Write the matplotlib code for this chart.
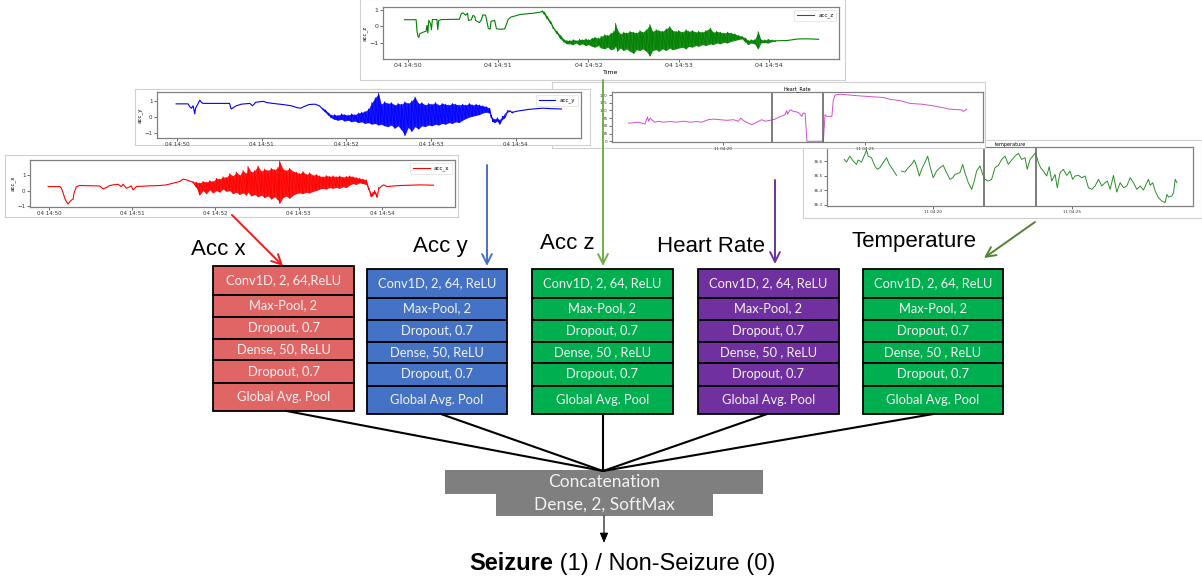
import numpy as np
import matplotlib.pyplot as plt

W, H = 1202, 578

# acc signals: time in minutes after 14:50, quiet trace (t, v) and noisy band (t, lo, hi)
accz_t = [-0.04, 0.09, 0.10, 0.11, 0.12, 0.13, 0.17, 0.20, 0.21, 0.22, 0.23, 0.25, 0.26, 0.27,
          0.32, 0.33, 0.34, 0.37, 0.57, 0.59, 0.61, 0.64, 0.66, 0.67, 0.70, 0.72, 0.74, 0.75,
          0.79, 0.81, 0.83, 0.86, 0.89, 0.91, 0.92, 0.96, 0.98, 1.02, 1.07, 1.09, 1.11, 1.14,
          1.19, 1.24, 1.31, 1.39, 1.47, 1.49, np.nan, 4.07, 4.12, 4.20, 4.27, 4.32, 4.40, 4.48, 4.55]
accz_v = [0.39, 0.39, -0.30, -0.60, -0.66, -0.45, -0.35, -0.30, 0.05, -0.40, 0.35, 0.15, -0.20, 0.40,
          0.40, -0.20, 0.35, 0.40, 0.42, 0.75, 0.80, 0.66, 0.78, 0.35, 0.38, 0.65, 0.58, 0.35,
          0.22, 0.35, 0.68, 0.66, -0.12, -0.18, 0.30, 0.35, -0.15, -0.18, -0.16, 0.10, 0.40, 0.55,
          0.62, 0.70, 0.74, 0.78, 0.85, 0.90, np.nan, -0.87, -0.86, -0.85, -0.80, -0.76, -0.75, -0.76, -0.78]
accz_nt = [1.49, 1.51, 1.54, 1.58, 1.61, 1.65, 1.69, 1.73, 1.76, 1.79, 1.83, 1.86, 1.90, 1.93, 1.97,
           2.00, 2.04, 2.07, 2.11, 2.14, 2.18, 2.21, 2.25, 2.28, 2.30, 2.32, 2.35, 2.39, 2.42, 2.46,
           2.50, 2.53, 2.57, 2.60, 2.64, 2.68, 2.71, 2.75, 2.78, 2.82, 2.86, 2.90, 2.93, 2.97, 3.00,
           3.04, 3.08, 3.11, 3.15, 3.19, 3.22, 3.26, 3.30, 3.35, 3.38, 3.42, 3.46, 3.50, 3.54, 3.58,
           3.62, 3.66, 3.70, 3.74, 3.77, 3.80, 3.84, 3.88, 3.91, 3.95, 3.99, 4.03, 4.07]
accz_lo = [0.85, 0.70, 0.45, 0.15, -0.15, -0.45, -0.75, -0.95, -1.05, -1.05, -1.10, -1.00, -1.12, -1.05, -1.15,
           -1.10, -1.20, -1.25, -1.15, -1.30, -1.35, -1.25, -1.40, -1.35, -1.20, -1.50, -1.30, -1.45, -1.35, -1.50,
           -1.62, -1.40, -1.45, -1.35, -1.50, -1.78, -1.45, -1.40, -1.50, -1.35, -1.45, -1.30, -1.40, -1.35, -1.30,
           -1.25, -1.35, -1.20, -1.25, -1.15, -1.20, -1.10, -1.15, -1.05, -1.10, -1.00, -1.05, -0.95, -1.00, -0.90,
           -0.85, -0.80, -0.75, -0.95, -1.10, -1.00, -1.05, -1.35, -1.00, -0.98, -1.00, -0.92, -0.90]
accz_hi = [0.92, 0.85, 0.60, 0.30, -0.05, -0.30, -0.55, -0.80, -0.85, -0.85, -0.80, -0.85, -0.78, -0.80, -0.75,
           -0.80, -0.70, -0.65, -0.72, -0.60, -0.50, -0.55, -0.40, -0.30, 0.17, -0.20, -0.45, -0.35, -0.40, -0.30,
           -0.35, -0.40, -0.25, -0.35, -0.20, 0.10, -0.30, -0.20, -0.25, -0.30, -0.15, -0.02, -0.25, -0.30, -0.25,
           -0.35, -0.20, -0.30, -0.25, -0.35, -0.30, -0.35, -0.25, -0.10, -0.35, -0.30, -0.35, -0.40, -0.35, -0.40,
           -0.45, -0.55, -0.60, -0.70, -0.85, -0.80, -0.80, -0.32, -0.80, -0.82, -0.78, -0.82, -0.85]

accy_t = [-0.01, 0.13, 0.15, 0.17, 0.19, 0.21, 0.22, 0.24, 0.26, 0.27, 0.29, 0.31, 0.39, 0.62, 0.64,
          0.67, 0.70, 0.76, 0.86, 0.89, 0.91, 0.93, 0.98, 1.02, 1.06, 1.13, 1.26, 1.35, 1.42, 1.46,
          1.50, 1.56, 1.63, 1.68, 1.72, np.nan, 3.96, 4.00, 4.06, 4.16, 4.25, 4.32, 4.42, 4.54]
accy_v = [0.82, 0.82, 0.65, 0.55, 0.70, 0.20, 0.55, 0.75, 0.95, 1.05, 0.90, 0.85, 0.85, 0.85, 0.50,
          0.60, 0.70, 0.80, 0.85, 0.70, 0.80, 0.92, 0.95, 0.98, 0.90, 0.85, 0.77, 0.70, 0.58, 0.55,
          0.65, 0.78, 0.80, 0.70, 0.50, np.nan, 0.28, 0.35, 0.40, 0.48, 0.52, 0.55, 0.52, 0.50]
accy_nt = [1.72, 1.75, 1.79, 1.82, 1.86, 1.90, 1.94, 1.98, 2.02, 2.06, 2.10, 2.14, 2.18, 2.22, 2.26,
           2.30, 2.34, 2.38, 2.41, 2.45, 2.49, 2.53, 2.57, 2.61, 2.65, 2.69, 2.73, 2.77, 2.81, 2.85,
           2.89, 2.93, 2.97, 3.01, 3.05, 3.09, 3.13, 3.17, 3.21, 3.25, 3.29, 3.33, 3.37, 3.41, 3.45,
           3.49, 3.53, 3.57, 3.61, 3.65, 3.69, 3.71, 3.73, 3.75, 3.78, 3.81, 3.84, 3.87, 3.90, 3.93, 3.96]
accy_lo = [0.45, 0.30, 0.10, -0.05, -0.15, -0.20, -0.15, -0.25, -0.20, -0.30, -0.25, -0.35, -0.30, -0.40, -0.35,
           -0.45, -0.40, -0.50, -0.45, -0.55, -0.60, -0.50, -0.70, -0.55, -0.80, -1.15, -0.65, -0.90, -0.60, -0.75,
           -0.55, -0.60, -0.50, -0.55, -0.45, -0.50, -0.40, -0.45, -0.35, -0.40, -0.30, -0.35, -0.20, -0.10, 0.00,
           0.05, 0.10, 0.15, 0.25, 0.30, 0.25, -0.05, -0.30, -0.35, -0.25, -0.45, -0.15, -0.05, 0.30, 0.35, 0.25]
accy_hi = [0.55, 0.45, 0.25, 0.12, 0.15, 0.10, 0.20, 0.15, 0.12, 0.20, 0.15, 0.25, 0.30, 0.35, 0.50,
           0.90, 1.20, 1.48, 0.80, 0.95, 0.85, 0.90, 0.75, 0.85, 0.80, 0.95, 0.85, 1.00, 1.25, 0.85,
           0.90, 0.75, 0.85, 0.80, 0.90, 0.75, 0.85, 0.80, 0.75, 0.85, 0.80, 0.75, 0.80, 0.75, 0.85,
           0.75, 0.80, 0.75, 0.70, 0.65, 0.55, 0.10, -0.10, -0.15, -0.05, -0.20, 0.05, 0.15, 0.40, 0.40, 0.32]

accx_t = [-0.01, 0.13, 0.15, 0.17, 0.19, 0.21, 0.23, 0.25, 0.27, 0.29, 0.30, 0.33, 0.37, 0.61, 0.65,
          0.69, 0.73, 0.77, 0.83, 0.87, 0.89, 0.93, 0.95, 0.99, 1.01, 1.05, 1.17, 1.33, 1.41, 1.49,
          1.57, 1.61, 1.65, 1.73, np.nan, 3.96, 4.00, 4.02, 4.06, 4.14, 4.22, 4.34, 4.46, 4.62]
accx_v = [0.26, 0.26, 0.15, -0.15, -0.50, -0.72, -0.87, -0.72, -0.61, -0.55, -0.17, 0.26, 0.33, 0.30, 0.11,
          0.20, 0.33, 0.37, 0.41, 0.26, 0.41, 0.15, 0.20, 0.30, 0.05, 0.26, 0.30, 0.33, 0.37, 0.48,
          0.59, 0.74, 0.70, 0.54, np.nan, 0.12, 0.30, 0.37, 0.26, 0.30, 0.33, 0.35, 0.37, 0.35]
accx_nt = [1.73, 1.77, 1.81, 1.85, 1.89, 1.93, 1.97, 2.01, 2.05, 2.09, 2.13, 2.17, 2.21, 2.25, 2.29,
           2.33, 2.37, 2.39, 2.43, 2.47, 2.51, 2.55, 2.59, 2.63, 2.67, 2.71, 2.75, 2.77, 2.81, 2.85,
           2.89, 2.93, 2.97, 3.01, 3.05, 3.09, 3.13, 3.17, 3.21, 3.25, 3.29, 3.33, 3.37, 3.41, 3.45,
           3.49, 3.53, 3.57, 3.61, 3.65, 3.69, 3.73, 3.77, 3.81, 3.84, 3.87, 3.89, 3.91, 3.94, 3.96]
accx_lo = [0.50, 0.20, -0.28, 0.00, -0.20, 0.05, -0.15, 0.00, -0.10, 0.10, -0.05, 0.00, -0.20, -0.10, -0.25,
           -0.15, -0.30, -0.10, -0.35, -0.25, -0.40, -0.30, -0.45, -0.35, -0.55, -0.40, -0.60, -0.83, -0.45, -0.35,
           -0.50, -0.30, -0.20, -0.15, -0.20, -0.10, -0.15, -0.05, 0.00, 0.10, 0.15, 0.10, 0.20, 0.15, 0.20,
           0.15, 0.25, 0.20, 0.35, 0.45, 0.40, 0.50, 0.45, 0.40, 0.05, -0.40, -0.30, -0.15, -0.45, 0.05]
accx_hi = [0.58, 0.55, 0.50, 0.60, 0.55, 0.65, 0.60, 0.80, 0.75, 0.90, 0.85, 1.10, 0.95, 1.20, 1.00,
           1.30, 1.10, 1.57, 1.20, 1.30, 1.60, 1.25, 1.40, 1.30, 1.45, 1.35, 1.50, 1.90, 1.40, 1.30,
           1.45, 1.25, 1.20, 1.10, 1.24, 1.05, 1.15, 1.00, 1.05, 0.95, 0.90, 0.98, 0.92, 0.95, 0.90,
           0.95, 0.88, 0.92, 0.95, 0.90, 0.85, 0.80, 0.75, 0.70, 0.20, -0.20, -0.10, 0.00, -0.25, 0.20]

# heart rate / temperature: minutes after 04:00 (day 11)
hr_t = [16.67, 16.84, 17.02, 17.25, 17.34, 17.38, 17.43, 17.49, 17.60, 17.72, 17.90, 18.13, 18.37, 18.60,
        18.84, 19.07, 19.25, 19.48, 19.66, 19.90, 20.13, 20.37, 20.54, 20.62, 20.72, 20.86, 21.01, 21.19,
        21.36, 21.48, 21.65, 21.83, 22.01, 22.18, 22.24, 22.27, 22.36, 22.48, 22.65, 22.77, 22.83, 22.89,
        22.95, 23.53, 23.59, 23.65, 23.83, 23.88, 23.94, 24.12, 24.35, 24.71, 25.18, 25.65, 25.88, 26.23,
        26.58, 27.05, 27.52, 27.99, 28.40, 28.46, 28.58]
hr_v = [59, 60, 62, 56, 79, 65, 75, 70, 62, 65, 62, 64, 62, 65,
        62, 64, 62, 70, 72, 70, 68, 70, 65, 75, 67, 60, 54, 62,
        70, 65, 68, 72, 80, 86, 100, 88, 102, 97, 94, 81, 92, 91,
        0, 0, 86, 81, 81, 134, 150, 153, 151, 148, 145, 142, 136, 132,
        123, 120, 113, 104, 102, 97, 104]

temp_t = [16.81, 16.89, 17.01, 17.13, 17.25, 17.31, 17.43, 17.55, 17.61, 17.67, 17.79, 17.91, 18.00, 18.09,
          18.21, 18.33, 18.43, 18.55, 18.69, np.nan, 18.87, 18.99, 19.11, 19.23, 19.33, 19.41, 19.51, 19.59,
          19.71, 19.81, 19.89, 20.01, 20.13, 20.25, 20.37, 20.49, 20.61, 20.71, 20.79, 20.97, 21.07, 21.15,
          21.27, 21.39, 21.47, 21.57, 21.69, 21.79, 21.87, 21.99, 22.11, 22.23, 22.35, 22.47, 22.59, 22.71,
          22.83, 22.95, 23.07, 23.19, 23.31, 23.39, 23.49, 23.61, 23.69, 23.79, 23.87, 23.97, 24.09, 24.18,
          24.27, 24.39, 24.47, 24.57, 24.69, 24.81, 24.93, 25.02, 25.11, 25.23, 25.35, 25.47, 25.59, 25.71,
          25.83, 25.95, 26.07, 26.19, 26.27, 26.37, 26.49, 26.61, 26.73, 26.85, 26.97, 27.09, 27.21, 27.33,
          27.45, 27.57, 27.69, 27.75, 27.81, 27.90, 27.99, 28.11, 28.23, 28.35, 28.41, 28.47, 28.59, 28.65,
          28.71, 28.77]
temp_v = [36.611, 36.593, 36.634, 36.600, 36.577, 36.607, 36.593, 36.646, 36.676, 36.634, 36.623, 36.566,
          36.543, 36.554, 36.589, 36.623, 36.577, 36.543, 36.501, np.nan, 36.531, 36.524, 36.554, 36.577,
          36.607, 36.566, 36.497, 36.543, 36.589, 36.634, 36.566, 36.485, 36.531, 36.554, 36.570, 36.520,
          36.474, 36.485, 36.508, 36.520, 36.577, 36.520, 36.451, 36.405, 36.451, 36.531, 36.566, 36.508,
          36.474, 36.462, 36.474, 36.554, 36.570, 36.611, 36.634, 36.577, 36.607, 36.634, 36.653, 36.611,
          36.623, 36.543, 36.611, 36.639, 36.657, 36.589, 36.554, 36.531, 36.497, 36.561, 36.462, 36.508,
          36.416, 36.520, 36.543, 36.501, 36.531, 36.474, 36.497, 36.501, 36.485, 36.497, 36.416, 36.405,
          36.428, 36.474, 36.428, 36.451, 36.462, 36.405, 36.501, 36.386, 36.451, 36.416, 36.428, 36.485,
          36.451, 36.405, 36.428, 36.400, 36.451, 36.474, 36.432, 36.451, 36.393, 36.347, 36.324, 36.313,
          36.370, 36.352, 36.359, 36.382, 36.474, 36.451]

acc_ticks = [0, 1, 2, 3, 4]
acc_labels = ["04 14:50", "04 14:51", "04 14:52", "04 14:53", "04 14:54"]
hr_ticks = [20, 25]
hr_labels = ["11 04:20", "11 04:25"]

# CNN branches
branches = ["Acc x", "Acc y", "Acc z", "Heart Rate", "Temperature"]
box_colors = ["#e06666", "#4472c4", "#00b050", "#7030a0", "#00b050"]
arrow_colors = ["#ee1c1c", "#4472c4", "#70ad47", "#7030a0", "#548235"]
layers = [
    ["Conv1D, 2, 64,ReLU", "Max-Pool, 2", "Dropout, 0.7", "Dense, 50, ReLU", "Dropout, 0.7", "Global Avg. Pool"],
    ["Conv1D, 2, 64, ReLU", "Max-Pool, 2", "Dropout, 0.7", "Dense, 50, ReLU", "Dropout, 0.7", "Global Avg. Pool"],
    ["Conv1D, 2, 64, ReLU", "Max-Pool, 2", "Dropout, 0.7", "Dense, 50 , ReLU", "Dropout, 0.7", "Global Avg. Pool"],
    ["Conv1D, 2, 64, ReLU", "Max-Pool, 2", "Dropout, 0.7", "Dense, 50 , ReLU", "Dropout, 0.7", "Global Avg. Pool"],
    ["Conv1D, 2, 64, ReLU", "Max-Pool, 2", "Dropout, 0.7", "Dense, 50 , ReLU", "Dropout, 0.7", "Global Avg. Pool"],
]

fig = plt.figure(figsize=(W / 100, H / 100), dpi=100)


def px_axes(l, t, r, b, z):
    return fig.add_axes([l / W, 1 - b / H, (r - l) / W, (b - t) / H], zorder=z)


def image_box(l, t, r, b, z):
    a = px_axes(l, t, r, b, z)
    a.set_xticks([])
    a.set_yticks([])
    for s in a.spines.values():
        s.set_color("#d0d0d0")
        s.set_linewidth(0.8)
    return a


def style(a, fs):
    a.tick_params(labelsize=fs, length=2, width=0.5, pad=1.2, colors="#333333")
    for s in a.spines.values():
        s.set_color("#808080")
        s.set_linewidth(0.9)


def acc_plot(a, t, v, nt, lo, hi, color, name):
    a.plot(t, v, color=color, lw=0.8, label=name)
    a.fill_between(nt, lo, hi, color=color, lw=0, alpha=0.9)
    a.plot(np.repeat(nt, 2), np.column_stack([lo, hi]).ravel(), color=color, lw=0.6)
    a.set_xticks(acc_ticks)
    a.set_xticklabels(acc_labels)
    a.set_yticks([-1, 0, 1])
    a.set_ylabel(name, fontsize=4, labelpad=1)
    leg = a.legend(loc="upper right", fontsize=4, handlelength=3, borderpad=0.5)
    leg.get_frame().set_linewidth(0.4)
    style(a, 4)


# temperature image
image_box(803, 140, 1202, 218, 1)
at = px_axes(827, 147, 1193, 206, 2)
at.plot(temp_t, temp_v, color="#2a8f2a", lw=0.7)
for x in [21.85, 23.69]:
    at.axvline(x, color="#666666", lw=1.2)
at.set_xlim(16.19, 29.35)
at.set_ylim(36.29, 36.697)
at.set_xticks(hr_ticks)
at.set_xticklabels(hr_labels)
at.set_yticks([36.3, 36.4, 36.5, 36.6])
at.set_title("temperature", fontsize=3.5, pad=1)
style(at, 3)

# heart rate image
image_box(552, 82, 985, 148, 3)
ah = px_axes(612, 92, 983, 142.5, 4)
ah.plot(hr_t, hr_v, color="#d050d0", lw=0.7)
for x in [21.71, 23.53]:
    ah.axvline(x, color="#666666", lw=1.2)
ah.set_xlim(16.09, 29.15)
ah.set_ylim(-4, 160)
ah.set_xticks(hr_ticks)
ah.set_xticklabels(hr_labels)
ah.set_yticks([0, 25, 50, 75, 100, 125, 150])
ah.set_title("Heart_Rate", fontsize=3.5, pad=1)
style(ah, 3)

# acc_z image
image_box(360, -1, 845, 80, 5)
az = px_axes(383, 7, 839, 59, 6)
acc_plot(az, accz_t, accz_v, accz_nt, accz_lo, accz_hi, "#008000", "acc_z")
az.set_xlim(-0.277, 4.776)
az.set_ylim(-1.955, 1.15)
az.set_xlabel("Time", fontsize=4.5, labelpad=1)
style(az, 4.5)

# acc_y image
image_box(135, 89, 590, 145, 7)
ay = px_axes(157, 92, 581, 138, 8)
acc_plot(ay, accy_t, accy_v, accy_nt, accy_lo, accy_hi, "#0000ff", "acc_y")
ay.set_xlim(-0.236, 4.77)
ay.set_ylim(-1.31, 1.56)

# acc_x image
image_box(5, 155, 458, 217, 9)
ax_ = px_axes(30, 160, 455, 207, 10)
acc_plot(ax_, accx_t, accx_v, accx_nt, accx_lo, accx_hi, "#ff0000", "acc_x")
ax_.set_xlim(-0.228, 4.877)
ax_.set_ylim(-1.06, 1.98)

# overlay diagram
ax = px_axes(0, 0, W, H, 20)
ax.set_xlim(0, W)
ax.set_ylim(H, 0)
ax.axis("off")

label_pos = [(218, 255), (440, 252), (567, 249), (711, 252), (914, 247)]
arrows = [((232, 215), (283, 266)), ((487, 165), (487, 266)), ((603, 80), (603, 266)),
          ((775, 180), (775, 264)), ((1035, 222), (984, 258))]
stack_x = [(213, 354), (367, 507), (532, 673), (698, 839), (863, 1003)]
stack_top = [266, 269, 269, 269, 269]
row_edges = [0, 28.5, 50.8, 72.5, 94.2, 116.8, 144.7]
fan_start = [285, 440, 603, 768, 935]
join = (603, 471)

for i, name in enumerate(branches):
    ax.text(label_pos[i][0], label_pos[i][1], name, fontsize=16, family="Liberation Sans",
            ha="center", va="baseline", color="black")
    ax.annotate("", xy=arrows[i][1], xytext=arrows[i][0],
                arrowprops=dict(arrowstyle="->,head_length=0.7,head_width=0.35",
                                color=arrow_colors[i], lw=1.4, shrinkA=0, shrinkB=0))
    l, r = stack_x[i]
    for j, txt in enumerate(layers[i]):
        y0 = stack_top[i] + row_edges[j]
        y1 = stack_top[i] + row_edges[j + 1]
        ax.add_patch(plt.Rectangle((l, y0), r - l, y1 - y0, facecolor=box_colors[i],
                                   edgecolor="black", lw=1.3))
        ax.text((l + r) / 2, (y0 + y1) / 2, txt, fontsize=9.3, family="Lato",
                color="#f2f2f2", ha="center", va="center")
    bottom = stack_top[i] + row_edges[-1]
    ax.plot([fan_start[i], join[0]], [bottom, join[1]], color="black", lw=1.5,
            solid_capstyle="butt")

# concatenation block
ax.add_patch(plt.Rectangle((445, 470), 318, 24, facecolor="#7f7f7f", edgecolor="none"))
ax.add_patch(plt.Rectangle((496, 493.5), 217, 22.5, facecolor="#7f7f7f", edgecolor="none"))
ax.text(604, 482, "Concatenation", fontsize=12.5, family="Lato", color="#f2f2f2",
        ha="center", va="center")
ax.text(604, 505, "Dense, 2, SoftMax", fontsize=12.5, family="Lato", color="#f2f2f2",
        ha="center", va="center")
ax.annotate("", xy=(604, 543), xytext=(604, 516),
            arrowprops=dict(arrowstyle="-|>,head_length=0.6,head_width=0.25",
                            color="black", lw=0.8, shrinkA=0, shrinkB=0))

t1 = ax.text(469, 570, "Seizure", fontsize=17, family="Liberation Sans", weight="bold",
             ha="left", va="baseline")
fig.canvas.draw()
bb = t1.get_window_extent(fig.canvas.get_renderer())
x_end = ax.transData.inverted().transform((bb.x1, bb.y0))[0]
ax.text(x_end, 570, " (1) / Non-Seizure (0)", fontsize=17, family="Liberation Sans",
        ha="left", va="baseline")

fig.savefig("out.png", dpi=100)
